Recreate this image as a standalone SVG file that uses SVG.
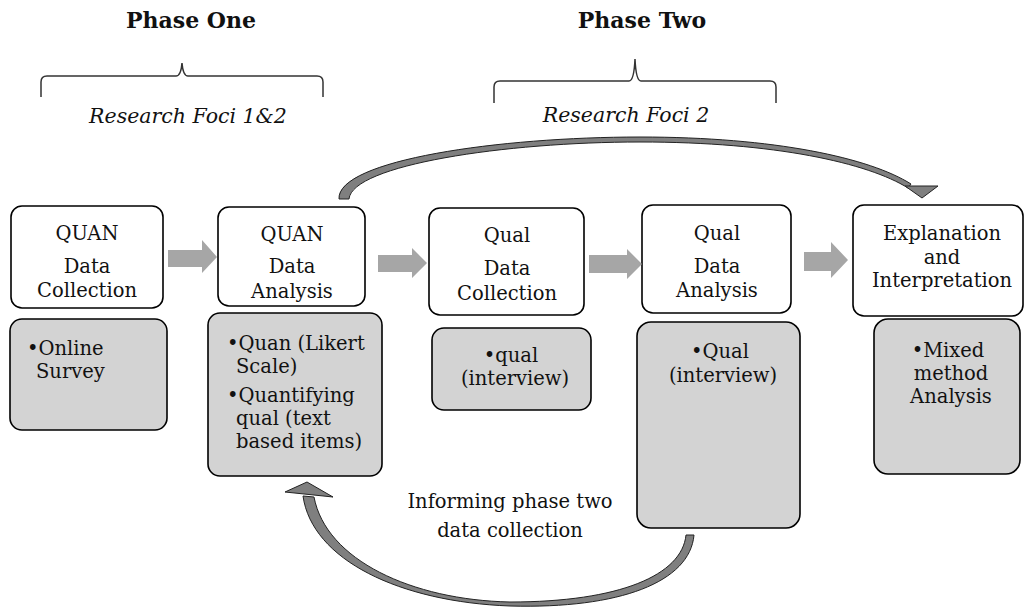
<svg xmlns="http://www.w3.org/2000/svg" width="1027" height="609" viewBox="0 0 1027 609">
  <style>
    text { font-family: "DejaVu Serif", "Liberation Serif", serif; fill: #111; }
    .phase { font-size: 22px; font-weight: bold; text-anchor: middle; }
    .focus { font-size: 20.5px; font-style: italic; text-anchor: middle; }
    .lbl { font-size: 19.5px; text-anchor: middle; }
    .item { font-size: 19.5px; }
    .mid { text-anchor: middle; }
    .box { fill: #ffffff; stroke: #000; stroke-width: 1.6; }
    .sub { fill: #d3d3d3; stroke: #000; stroke-width: 1.6; }
    .brace { fill: none; stroke: #333; stroke-width: 1.5; }
    .block { fill: #a6a6a6; }
    .curve { fill: #7f7f7f; stroke: #222; stroke-width: 1; }
  </style>

  <!-- headings and braces -->
  <g id="phase-one">
    <text class="phase" x="191" y="28">Phase One</text>
    <path class="brace" d="M41 97 V82 Q41 76 47 76 H176 Q181 76 182 63 Q183 76 188 76 H317 Q323 76 323 82 V97"/>
    <text class="focus" x="188" y="123">Research Foci 1&amp;2</text>
  </g>
  <g id="phase-two">
    <text class="phase" x="642" y="28">Phase Two</text>
    <path class="brace" d="M494 103 V87 Q494 81 500 81 H629 Q634 81 635 59 Q636 81 641 81 H770 Q776 81 776 87 V103"/>
    <text class="focus" x="626" y="122">Research Foci 2</text>
  </g>

  <!-- stage boxes -->
  <g id="quan-collection">
    <rect class="box" x="11" y="206" width="152" height="102" rx="11"/>
    <text class="lbl" x="87" y="240">QUAN</text>
    <text class="lbl" x="87" y="273">Data</text>
    <text class="lbl" x="87" y="297">Collection</text>
  </g>
  <g id="quan-analysis">
    <rect class="box" x="218" y="207" width="147" height="99" rx="11"/>
    <text class="lbl" x="292" y="241">QUAN</text>
    <text class="lbl" x="292" y="273">Data</text>
    <text class="lbl" x="292" y="298">Analysis</text>
  </g>
  <g id="qual-collection">
    <rect class="box" x="429" y="208" width="155" height="107" rx="11"/>
    <text class="lbl" x="507" y="242">Qual</text>
    <text class="lbl" x="507" y="275">Data</text>
    <text class="lbl" x="507" y="300">Collection</text>
  </g>
  <g id="qual-analysis">
    <rect class="box" x="642" y="205" width="149" height="108" rx="11"/>
    <text class="lbl" x="717" y="240">Qual</text>
    <text class="lbl" x="717" y="273">Data</text>
    <text class="lbl" x="717" y="297">Analysis</text>
  </g>
  <g id="interpretation">
    <rect class="box" x="853" y="205" width="170" height="111" rx="11"/>
    <text class="lbl" x="942" y="240">Explanation</text>
    <text class="lbl" x="942" y="264">and</text>
    <text class="lbl" x="942" y="287">Interpretation</text>
  </g>

  <!-- detail boxes -->
  <g id="survey">
    <rect class="sub" x="10" y="319" width="157" height="111" rx="12"/>
    <text class="item" x="27" y="355">•Online</text>
    <text class="item" x="36" y="378">Survey</text>
  </g>
  <g id="quan-items">
    <rect class="sub" x="208" y="313" width="174" height="163" rx="12"/>
    <text class="item" x="227" y="350">•Quan (Likert</text>
    <text class="item" x="236" y="373">Scale)</text>
    <text class="item" x="227" y="402">•Quantifying</text>
    <text class="item" x="236" y="425">qual (text</text>
    <text class="item" x="236" y="448">based items)</text>
  </g>
  <g id="qual-interview">
    <rect class="sub" x="432" y="328" width="159" height="82" rx="12"/>
    <text class="item mid" x="511" y="362">•qual</text>
    <text class="item mid" x="515" y="385">(interview)</text>
  </g>
  <g id="qual-interview-analysis">
    <rect class="sub" x="637" y="322" width="163" height="206" rx="14"/>
    <text class="item mid" x="720" y="358">•Qual</text>
    <text class="item mid" x="723" y="382">(interview)</text>
  </g>
  <g id="mixed">
    <rect class="sub" x="874" y="319" width="146" height="155" rx="14"/>
    <text class="item mid" x="948" y="357">•Mixed</text>
    <text class="item mid" x="951" y="380">method</text>
    <text class="item mid" x="951" y="403">Analysis</text>
  </g>

  <g id="feedback-label">
    <text class="lbl" x="510" y="508">Informing phase two</text>
    <text class="lbl" x="510" y="537">data collection</text>
  </g>

  <!-- connectors -->
  <g id="connectors">
    <polygon class="block" points="168,250 202,250 202,240 217,257 202,273 202,267 168,267"/>
    <polygon class="block" points="378,255 412,255 412,248 427,263 412,278 412,272 378,272"/>
    <polygon class="block" points="589,255 627,255 627,249 642,264 627,279 627,273 589,273"/>
    <polygon class="block" points="804,252 831,252 831,242 848,260 831,278 831,271 804,271"/>

    <!-- arc from QUAN analysis over to the interpretation stage -->
    <path class="curve" d="M339 199 C337 160 500 137 640 137 C775 137 870 158 911 184 L908 188 C868 163 775 142 640 142 C505 142 352 165 349 199 Z"/>
    <polygon class="curve" points="905,186 938,186 922,198"/>

    <!-- return arc from qual analysis back to QUAN analysis -->
    <path class="curve" d="M303 496 C312 560 400 602 510 606 C620 609 690 582 694 535 L686 535 C682 575 620 602 510 602 C412 600 326 560 314 497 Z"/>
    <polygon class="curve" points="285,492 307,482 333,497"/>
  </g>
</svg>
